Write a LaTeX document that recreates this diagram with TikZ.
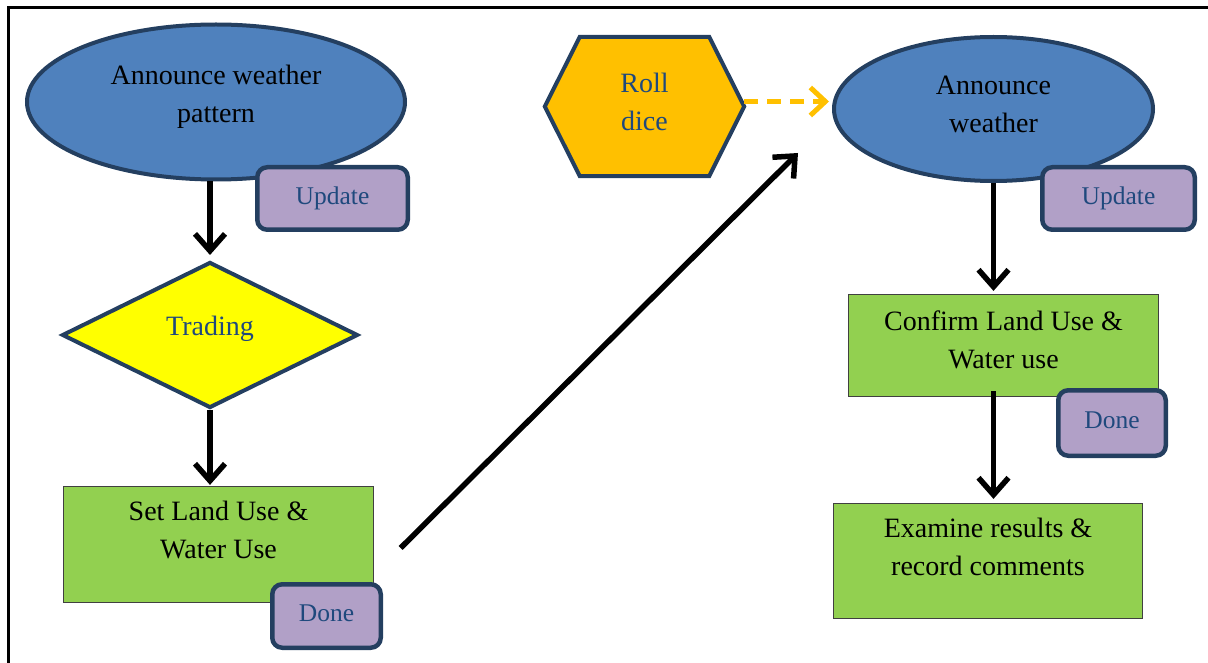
\documentclass[tikz,border=0pt]{standalone}
\usepackage{fontspec}
\setmainfont{Liberation Serif}
\usetikzlibrary{shapes.geometric,arrows.meta,backgrounds}
\definecolor{bordernavy}{HTML}{243F60}
\definecolor{shapeblue}{HTML}{4F81BD}
\definecolor{lav}{HTML}{B1A0C7}
\definecolor{txtblue}{HTML}{1F497D}
\definecolor{ylw}{HTML}{FFFF00}
\definecolor{orng}{HTML}{FFC000}
\definecolor{grn}{HTML}{92D050}
\begin{document}
\begin{tikzpicture}[x=1pt,y=-1pt,
  bigfont/.style={font=\fontsize{28}{38}\selectfont},
  oval/.style={ellipse, draw=bordernavy, fill=shapeblue, line width=4pt, inner sep=0pt},
  tag/.style={rectangle, rounded corners=10pt, draw=bordernavy, fill=lav, line width=4.5pt,
    text=txtblue, font=\fontsize{25.5}{30}\selectfont, text height=17pt, text depth=5.5pt, inner sep=0pt},
  greenbox/.style={rectangle, draw=black!75, fill=grn, line width=1.2pt, inner sep=0pt},
  txt/.style={bigfont, align=center, inner sep=0pt, anchor=center},
  bluetxt/.style={txt, text=txtblue},
  arr/.style={line width=5.5pt, -{Straight Barb[length=17pt,width=30pt]}},
  dasharr/.style={line width=5pt, draw=orng, dash pattern=on 14pt off 9pt, -{Straight Barb[length=15pt,width=28pt]}},
]
\useasboundingbox (0,0) rectangle (1208,663);
% frame
\draw[line width=3pt] (1212,7.5) -- (8.5,7.5) -- (8.5,667);

% left column
\node[oval, minimum width=378pt, minimum height=155pt,
  label={[txt, yshift=5pt]center:{Announce weather\\pattern}}] (e1) at (216,102) {};
\node[tag, minimum width=150.5pt, minimum height=62.5pt] (u1) at (332.5,198.5) {Update};

\node[diamond, draw=bordernavy, fill=ylw, line width=4pt, inner sep=0pt,
  minimum width=296pt, minimum height=146pt,
  label={[bluetxt, yshift=6pt]center:{Trading}}] (d1) at (210,335) {};

\node[greenbox, minimum width=310pt, minimum height=116pt,
  label={[txt, yshift=14.5pt]center:{Set Land Use \&\\Water Use}}] (r1) at (218.5,544.5) {};
\node[tag, minimum width=108.5pt, minimum height=63.5pt] (dn1) at (326.5,616) {Done};

% hexagon
\node[minimum width=199pt, minimum height=139pt, inner sep=0pt,
  label={[bluetxt, yshift=4.5pt]center:{Roll\\dice}}] (hx) at (644.5,106.5) {};
\begin{scope}[on background layer]
\filldraw[draw=bordernavy, fill=orng, line width=4pt, line join=miter]
  (hx.west) -- ([xshift=35pt]hx.north west) -- ([xshift=-35pt]hx.north east)
  -- (hx.east) -- ([xshift=-35pt]hx.south east) -- ([xshift=35pt]hx.south west) -- cycle;
\end{scope}

% right column
\node[oval, minimum width=319pt, minimum height=144pt,
  label={[txt, yshift=5pt]center:{Announce\\weather}}] (e2) at (993.5,109) {};
\node[tag, minimum width=152.5pt, minimum height=62.5pt] (u2) at (1118.5,198.5) {Update};

\node[greenbox, minimum width=310pt, minimum height=102pt,
  label={[txt, yshift=6pt]center:{Confirm Land Use \&\\Water use}}] (r2) at (1003.5,345.5) {};
\node[tag, minimum width=107.5pt, minimum height=65.5pt] (dn2) at (1112,423) {Done};

\node[greenbox, minimum width=309pt, minimum height=115pt,
  label={[txt, yshift=14pt]center:{Examine results \&\\record comments}}] (r3) at (988,561) {};

% connectors
\draw[arr, shorten >=5pt] (d1.north |- e1.south) -- (d1.north);
\draw[arr, shorten >=1pt] (d1.south) -- (d1.south |- r1.north);
\coordinate (dgA) at ([shift={(26.5pt,-3.5pt)}]r1.east);
\coordinate (dgB) at ([shift={(-34pt,-44pt)}]e2.west);
\draw[arr] (dgA) -- (dgB);
\draw[dasharr, shorten >=3pt] ([yshift=5pt]hx.east) -- ([yshift=5pt]hx.east -| e2.west);
\draw[arr, shorten >=3pt] (e2.south) -- (e2.south |- r2.north);
\draw[arr, shorten >=4pt] ([yshift=6pt]e2.south |- r2.south) -- (e2.south |- r3.north);
\end{tikzpicture}
\end{document}
